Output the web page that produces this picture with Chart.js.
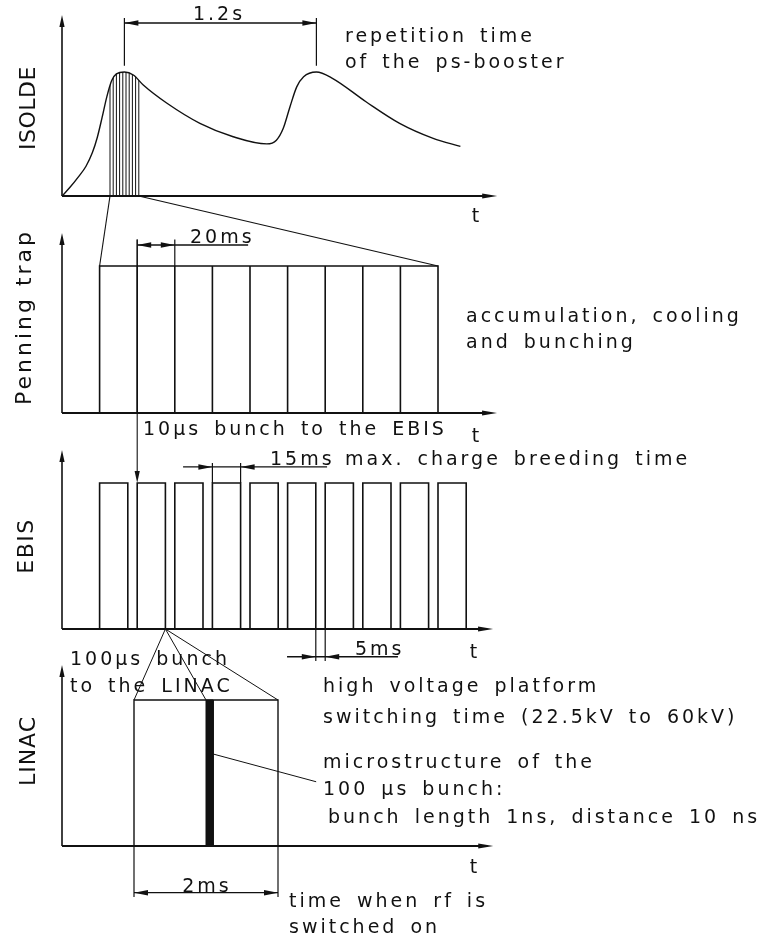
<!DOCTYPE html>
<html>
<head>
<meta charset="utf-8">
<script src="https://cdn.jsdelivr.net/npm/chart.js@4.4.1/dist/chart.umd.min.js"></script>
<style>
  html, body { margin: 0; background: #fff; }
  canvas { display: block; }
</style>
</head>
<body>
<canvas id="timing" width="779" height="939"></canvas>
<script>
// ISOLDE yield after each PS-booster proton pulse (t in s, relative intensity)
const isoldeTime  = [0, 0.05, 0.10, 0.15, 0.19, 0.22, 0.25, 0.28, 0.31, 0.34, 0.39, 0.446, 0.508, 0.654, 0.862, 1.07, 1.28, 1.34, 1.383, 1.425, 1.467, 1.51, 1.59, 1.69, 1.90, 2.11, 2.32, 2.49];
const isoldeLevel = [0, 0.07, 0.15, 0.24, 0.35, 0.47, 0.63, 0.80, 0.93, 0.985, 1.0, 0.976, 0.895, 0.75, 0.586, 0.478, 0.42, 0.45, 0.546, 0.72, 0.88, 0.962, 1.0, 0.949, 0.76, 0.586, 0.465, 0.40];
const boosterPulses = [0.39, 1.59];   // s, 1.2 s repetition
const collectStart = 0.30;            // s, first Penning trap cycle on the ISOLDE time axis

// Penning trap cycles (ms)
const penningStart = [20, 40, 60, 80, 100, 120, 140, 160, 180];
const penningCycle = 20;

// EBIS charge breeding (ms)
const ebisStart = [20, 40, 60, 80, 100, 120, 140, 160, 180, 200];
const ebisBreeding = 15;

// LINAC (ms)
const linacRfOn = [1, 3];
const linacBunch = [2.0, 2.1];        // 100 µs bunch

const W = 779, H = 939;
const ink = '#111';

// panel frames: time origin and scale in px, baseline and pulse height in px, axis extents in data units
const frames = {
  Iso:  { x0: 62, kx: 160,  base: 196, ky: 124, yTop: 1.46,  xEnd: 2.72 },
  Pen:  { x0: 62, kx: 1.88, base: 413, ky: 147, yTop: 1.224, xEnd: 231.4 },
  Ebis: { x0: 62, kx: 1.88, base: 629, ky: 146, yTop: 1.226, xEnd: 229.3 },
  Lin:  { x0: 62, kx: 72,   base: 846, ky: 146, yTop: 1.24,  xEnd: 5.99 }
};

const scales = {};
Object.entries(frames).forEach(([key, f]) => {
  scales['x' + key] = { type: 'linear', axis: 'x', position: 'bottom', display: false, bounds: 'data',
    min: -f.x0 / f.kx, max: (W - f.x0) / f.kx };
  scales['y' + key] = { type: 'linear', axis: 'y', position: 'left', display: false, bounds: 'data',
    min: -(H - f.base) / f.ky, max: f.base / f.ky };
});

function pulseOutline(starts, width) {
  const pts = [];
  starts.forEach(s => {
    pts.push({ x: s, y: 0 }, { x: s, y: 1 }, { x: s + width, y: 1 }, { x: s + width, y: 0 }, { x: s + width, y: null });
  });
  return pts;
}

const hatchTimes = penningStart.concat([penningStart[penningStart.length - 1] + penningCycle])
  .map(t => collectStart + (t - penningStart[0]) / 1000);

function pt(chart, key, x, y) {
  return [chart.scales['x' + key].getPixelForValue(x), chart.scales['y' + key].getPixelForValue(y)];
}
function seg(ctx, a, b, w) {
  ctx.lineWidth = w;
  ctx.beginPath();
  ctx.moveTo(a[0], a[1]);
  ctx.lineTo(b[0], b[1]);
  ctx.stroke();
}
function head(ctx, tip, dx, dy, len, half) {
  const bx = tip[0] - dx * len, by = tip[1] - dy * len;
  ctx.beginPath();
  ctx.moveTo(tip[0], tip[1]);
  ctx.lineTo(bx - dy * half, by + dx * half);
  ctx.lineTo(bx + dy * half, by - dx * half);
  ctx.closePath();
  ctx.fill();
}

// dimension lines: inside = arrows between extension lines pointing out
const dims = [
  { key: 'Iso', from: boosterPulses[0], to: boosterPulses[1], at: 1.395, inside: true, ext: [1.05, 1.435] },
  { key: 'Pen', from: penningStart[1], to: penningStart[1] + penningCycle, at: 1.143, inside: true, ext: [1, 1.18], tail: 99 },
  { key: 'Ebis', from: ebisStart[3], to: ebisStart[3] + ebisBreeding, at: 1.11, inside: false, ext: [1, 1.137], lead: 64.4, tail: 141 },
  { key: 'Ebis', from: ebisStart[5] + ebisBreeding, to: ebisStart[6], at: -0.19, inside: false, ext: [0, -0.22], lead: 119.7, tail: 178.7 },
  { key: 'Lin', from: linacRfOn[0], to: linacRfOn[1], at: -0.32, inside: true, ext: [0, -0.35] }
];

// annotation text: left x / baseline y in px
const notes = [
  { text: '1.2s', x: 219, y: 20, align: 'center' },
  { text: 'repetition time', x: 345, y: 42 },
  { text: 'of the ps-booster', x: 345, y: 68 },
  { text: 't', x: 477, y: 222, align: 'center' },
  { text: '20ms', x: 190, y: 243 },
  { text: 'accumulation, cooling', x: 466, y: 322 },
  { text: 'and bunching', x: 466, y: 348 },
  { text: '10µs bunch to the EBIS', x: 143, y: 435 },
  { text: 't', x: 477, y: 442, align: 'center' },
  { text: '15ms', x: 270, y: 465 },
  { text: 'max. charge breeding time', x: 345, y: 465 },
  { text: '5ms', x: 355, y: 655 },
  { text: 't', x: 475, y: 658, align: 'center' },
  { text: '100µs bunch', x: 70, y: 665 },
  { text: 'to the LINAC', x: 70, y: 692 },
  { text: 'high voltage platform', x: 323, y: 692 },
  { text: 'switching time (22.5kV to 60kV)', x: 323, y: 723 },
  { text: 'microstructure of the', x: 323, y: 768 },
  { text: '100 µs bunch:', x: 323, y: 795 },
  { text: 'bunch length 1ns, distance 10 ns', x: 328, y: 823 },
  { text: 't', x: 475, y: 873, align: 'center' },
  { text: '2ms', x: 207, y: 892, align: 'center' },
  { text: 'time when rf is', x: 289, y: 907 },
  { text: 'switched on', x: 289, y: 933 }
];
const axisTitles = [
  { text: 'ISOLDE', x: 35, y: 108, spacing: '0.5px' },
  { text: 'Penning trap', x: 31, y: 317, spacing: '3px' },
  { text: 'EBIS', x: 33, y: 546, spacing: '1.5px' },
  { text: 'LINAC', x: 35, y: 751, spacing: '1px' }
];

const diagram = {
  id: 'diagram',
  afterDatasetsDraw(chart) {
    const ctx = chart.ctx;
    ctx.save();
    ctx.strokeStyle = ink;
    ctx.fillStyle = ink;
    ctx.lineCap = 'butt';

    // axes with arrows
    Object.entries(frames).forEach(([key, f]) => {
      const o = pt(chart, key, 0, 0);
      const top = pt(chart, key, 0, f.yTop);
      const end = pt(chart, key, f.xEnd, 0);
      seg(ctx, o, [top[0], top[1] + 6], 1.6);
      head(ctx, top, 0, -1, 12, 2.6);
      seg(ctx, o, [end[0] - 6, end[1]], 2);
      head(ctx, end, 1, 0, 15, 2.6);
    });

    // collection window under the first ISOLDE pulse
    const curve = chart.getDatasetMeta(0).dataset;
    const pts = chart.getDatasetMeta(0).data;
    const baseY = chart.scales.yIso.getPixelForValue(0);
    ctx.save();
    ctx.beginPath();
    curve.path(ctx);
    ctx.lineTo(pts[pts.length - 1].x, baseY);
    ctx.lineTo(pts[0].x, baseY);
    ctx.closePath();
    ctx.clip();
    hatchTimes.forEach(t => seg(ctx, pt(chart, 'Iso', t, 0), pt(chart, 'Iso', t, 1.2), 1));
    ctx.restore();

    // dimension lines
    dims.forEach(d => {
      const a = pt(chart, d.key, d.from, d.at);
      const b = pt(chart, d.key, d.to, d.at);
      seg(ctx, pt(chart, d.key, d.from, d.ext[0]), pt(chart, d.key, d.from, d.ext[1]), 1.2);
      seg(ctx, pt(chart, d.key, d.to, d.ext[0]), pt(chart, d.key, d.to, d.ext[1]), 1.2);
      const left = d.lead !== undefined ? pt(chart, d.key, d.lead, d.at) : a;
      const right = d.tail !== undefined ? pt(chart, d.key, d.tail, d.at) : b;
      seg(ctx, left, right, 1.3);
      if (d.inside) {
        head(ctx, a, -1, 0, 14, 2.8);
        head(ctx, b, 1, 0, 14, 2.8);
      } else {
        head(ctx, a, 1, 0, 14, 2.8);
        head(ctx, b, -1, 0, 14, 2.8);
      }
    });

    // ISOLDE collection window spread onto the Penning trap cycles
    const lastEdge = penningStart[penningStart.length - 1] + penningCycle;
    seg(ctx, pt(chart, 'Iso', hatchTimes[0], 0), pt(chart, 'Pen', penningStart[0], 1), 1.1);
    seg(ctx, pt(chart, 'Iso', hatchTimes[hatchTimes.length - 1], 0), pt(chart, 'Pen', lastEdge, 1), 1.1);

    // 10 µs bunch from the trap into the EBIS
    const inj = pt(chart, 'Ebis', penningStart[1], 1);
    seg(ctx, pt(chart, 'Pen', penningStart[1], 1.18), [inj[0], inj[1] - 6], 1.1);
    head(ctx, inj, 0, 1, 12, 2.6);

    // 100 µs bunch from the EBIS onto the LINAC time scale
    const apex = pt(chart, 'Ebis', ebisStart[1] + ebisBreeding, 0);
    [linacRfOn[0], linacBunch[0], linacRfOn[1]].forEach(t => seg(ctx, apex, pt(chart, 'Lin', t, 1), 1));

    // leader to the microstructure note
    seg(ctx, pt(chart, 'Lin', linacBunch[1], 0.63), pt(chart, 'Lin', 3.53, 0.44), 1);

    // text
    ctx.font = '19px "DejaVu Sans"';
    ctx.letterSpacing = '3px';
    ctx.wordSpacing = '4px';
    ctx.textBaseline = 'alphabetic';
    notes.forEach(n => {
      ctx.textAlign = n.align || 'left';
      ctx.fillText(n.text, n.x, n.y);
    });

    ctx.font = '22px "DejaVu Sans"';
    ctx.wordSpacing = '0px';
    ctx.textAlign = 'center';
    axisTitles.forEach(a => {
      ctx.save();
      ctx.letterSpacing = a.spacing;
      ctx.translate(a.x, a.y);
      ctx.rotate(-Math.PI / 2);
      ctx.fillText(a.text, 0, 0);
      ctx.restore();
    });
    ctx.restore();
  }
};

new Chart(document.getElementById('timing'), {
  type: 'line',
  data: {
    datasets: [
      {
        label: 'ISOLDE',
        data: isoldeTime.map((t, i) => ({ x: t, y: isoldeLevel[i] })),
        xAxisID: 'xIso', yAxisID: 'yIso',
        borderColor: ink, borderWidth: 1.4,
        cubicInterpolationMode: 'monotone'
      },
      {
        label: 'Penning trap',
        data: pulseOutline(penningStart, penningCycle),
        xAxisID: 'xPen', yAxisID: 'yPen',
        borderColor: ink, borderWidth: 1.6
      },
      {
        label: 'EBIS',
        data: pulseOutline(ebisStart, ebisBreeding),
        xAxisID: 'xEbis', yAxisID: 'yEbis',
        borderColor: ink, borderWidth: 1.6
      },
      {
        label: 'LINAC rf',
        data: pulseOutline([linacRfOn[0]], linacRfOn[1] - linacRfOn[0]),
        xAxisID: 'xLin', yAxisID: 'yLin',
        borderColor: ink, borderWidth: 1.4
      },
      {
        label: 'LINAC bunch',
        data: pulseOutline([linacBunch[0]], linacBunch[1] - linacBunch[0]),
        xAxisID: 'xLin', yAxisID: 'yLin',
        borderColor: ink, borderWidth: 1, backgroundColor: ink, fill: 'origin'
      }
    ]
  },
  options: {
    responsive: false,
    animation: false,
    events: [],
    layout: { padding: 0 },
    elements: { point: { radius: 0 }, line: { borderJoinStyle: 'miter' } },
    plugins: { legend: { display: false }, tooltip: { enabled: false } },
    scales: scales
  },
  plugins: [diagram]
});
</script>
</body>
</html>
